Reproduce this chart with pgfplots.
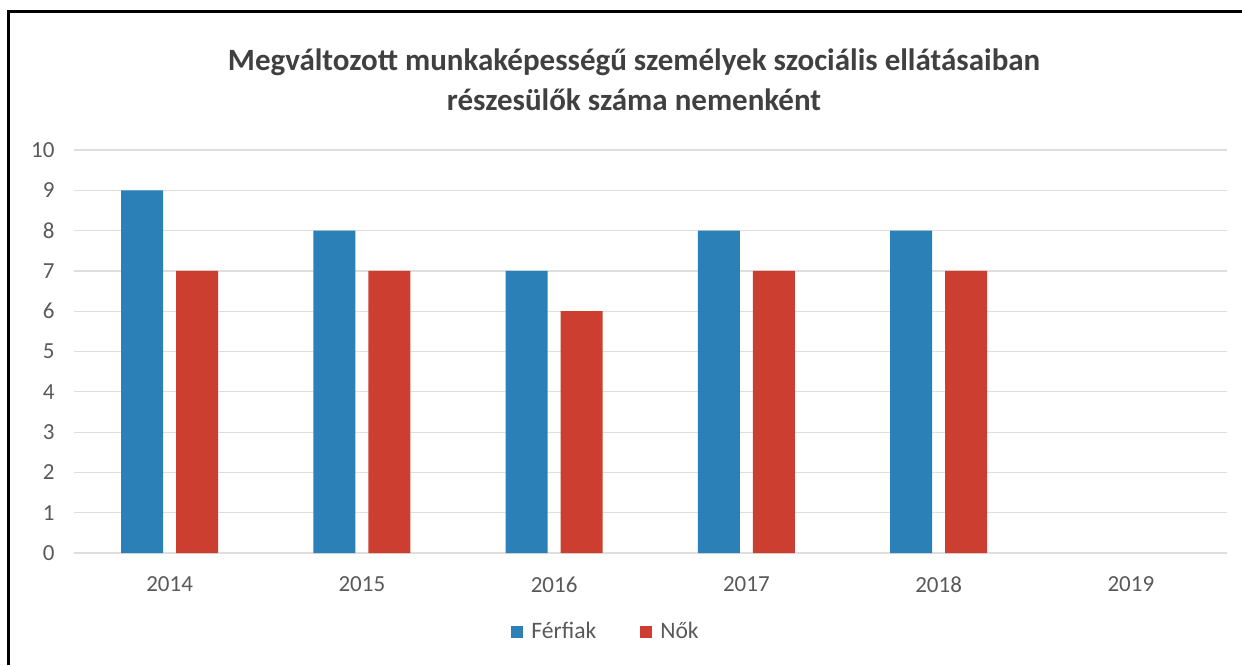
\documentclass[border=0pt]{standalone}
\usepackage{fontspec}
\setmainfont{Carlito}
\usepackage{pgfplots}
\pgfplotsset{compat=1.18}

\definecolor{ferfi}{RGB}{44,128,184}
\definecolor{noi}{RGB}{204,62,48}
\definecolor{gridc}{RGB}{222,222,222}
\definecolor{txt}{RGB}{64,64,64}
\definecolor{tick}{RGB}{89,89,89}

\begin{document}
\begin{tikzpicture}
% page = 1242 x 665 px, 1 px = 0.5pt
\path[use as bounding box] (0,0) rectangle (621pt,332.5pt);
\draw[black, line width=1.5pt] (4pt,0) -- (4pt,326.5pt) -- (621pt,326.5pt);

\begin{axis}[
  at={(36.75pt,56pt)}, anchor=south west,
  scale only axis,
  width=576.75pt, height=201.5pt,
  ybar=6.5pt, bar width=21pt,
  xmin=-0.5, xmax=5.5,
  ymin=0, ymax=10,
  xtick={0,1,2,3,4,5},
  xticklabels={2014,2015,2016,2017,2018,2019},
  ytick={0,1,...,10},
  axis line style={draw=none},
  major tick length=0pt,
  ymajorgrids,
  major grid style={draw=gridc, line width=0.6pt},
  tick label style={font=\fontsize{11.5}{13}\selectfont, text=tick},
  /pgf/number format/assume math mode=true,
  yticklabel style={xshift=-6pt},
  xticklabel style={yshift=-8.5pt},
  title={Megváltozott munkaképességű személyek szociális ellátásaiban\\részesülők száma nemenként},
  title style={at={(0.486,1.145)}, anchor=center, align=center,
    font=\fontsize{15.5}{20}\selectfont\bfseries, text=txt},
  legend columns=2,
  legend style={at={(0.4625,-0.195)}, anchor=center, draw=none, fill=none,
    font=\fontsize{11.8}{13}\selectfont, text=tick,
    /tikz/every odd column/.append style={column sep=2pt},
    /tikz/every even column/.append style={column sep=20pt}},
  legend image code/.code={\fill[#1] (0pt,-3pt) rectangle (6pt,3pt);},
]
\addplot[fill=ferfi, draw=none] coordinates {(0,9) (1,8) (2,7) (3,8) (4,8)};
\addplot[fill=noi, draw=none] coordinates {(0,7) (1,7) (2,6) (3,7) (4,7)};
\legend{Férfiak,Nők}
\end{axis}
\end{tikzpicture}
\end{document}
